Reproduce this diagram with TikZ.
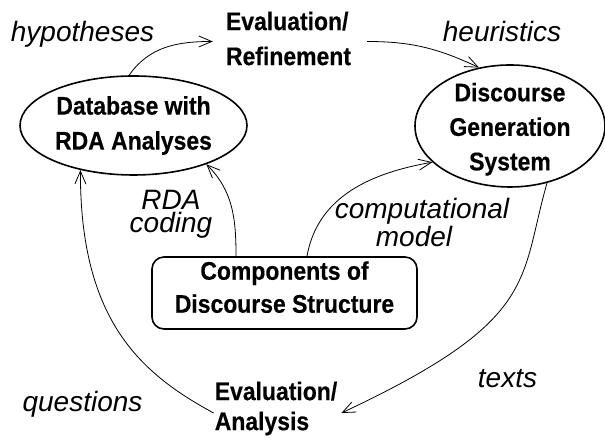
\documentclass[tikz,border=0pt]{standalone}
\usepackage{fontspec}
\setmainfont{Liberation Sans}
\newfontfamily\narrowsans[FakeStretch=0.9, BoldFeatures={FakeBold=0.4}]{Liberation Sans}
\usetikzlibrary{shapes.geometric, arrows.meta}

\begin{document}
\begin{tikzpicture}[x=1pt, y=1pt,
    box/.style={font=\narrowsans\bfseries\fontsize{25.5}{#1}\selectfont, align=center, inner sep=0pt},
    box/.default=34,
    lbl/.style={font=\itshape\fontsize{28}{23}\selectfont, align=center, inner sep=0pt},
    flow/.style={-{Straight Barb[length=13pt,width=11pt]}, line width=0.8pt}]
  \useasboundingbox (0,0) rectangle (605,443);

  % the three main blocks
  \node[box=35, draw, ellipse, line width=1.6pt, minimum width=227, minimum height=99] (db) at (133.5,317.5) {Database with\\RDA Analyses};
  \node[box=34.5, draw, ellipse, line width=1.6pt, inner ysep=-8pt, text height=94pt, minimum width=190, minimum height=122] (dgs) at (510,317) {Discourse\\Generation\\System};
  \node[box=33, draw, rounded corners=12pt, line width=1.6pt, text depth=12pt, minimum width=265, minimum height=72] (comp) at (284.5,150) {Components of\\Discourse Structure};

  % the two evaluation steps
  \node[box=35, align=left] (evalref) at (288.5,404.5) {Evaluation/\\Refinement};
  \node[box=30, align=left] (evalan) at (276,34.5) {Evaluation/\\Analysis};

  % arrows
  \draw[flow] (db.95) to[out=55, in=180] ([shift={(-13,-3)}]evalref.west);
  \draw[flow] ([shift={(16,-3)}]evalref.east) to[out=0, in=155] (dgs.118);
  \draw[flow] ([xshift=-48.5]comp.north) to[out=90, in=-45] (db.-28);
  \draw[flow] ([xshift=22.5]comp.north) to[out=80, in=190] (dgs.205);
  \draw[flow] (dgs.-57) .. controls (519,162) and (540,123) .. ([shift={(4,-4.5)}]evalan.east);
  \draw[flow] ([shift={(-1,-4.5)}]evalan.west) .. controls (142,69) and (80,121) .. (db.-140);

  % labels
  \node[lbl, anchor=base] (hyp) at (82.5,401) {hypotheses};
  \node[lbl, anchor=base] (heur) at (502,401) {heuristics};
  \node[lbl] (coding) at (171,229) {RDA\\coding};
  \node[lbl] (model) at (422,220.5) {computational\\model\kern16pt};
  \node[lbl, anchor=base] (texts) at (507.5,55) {texts};
  \node[lbl, anchor=base] (quest) at (82.5,31) {questions};
\end{tikzpicture}
\end{document}
